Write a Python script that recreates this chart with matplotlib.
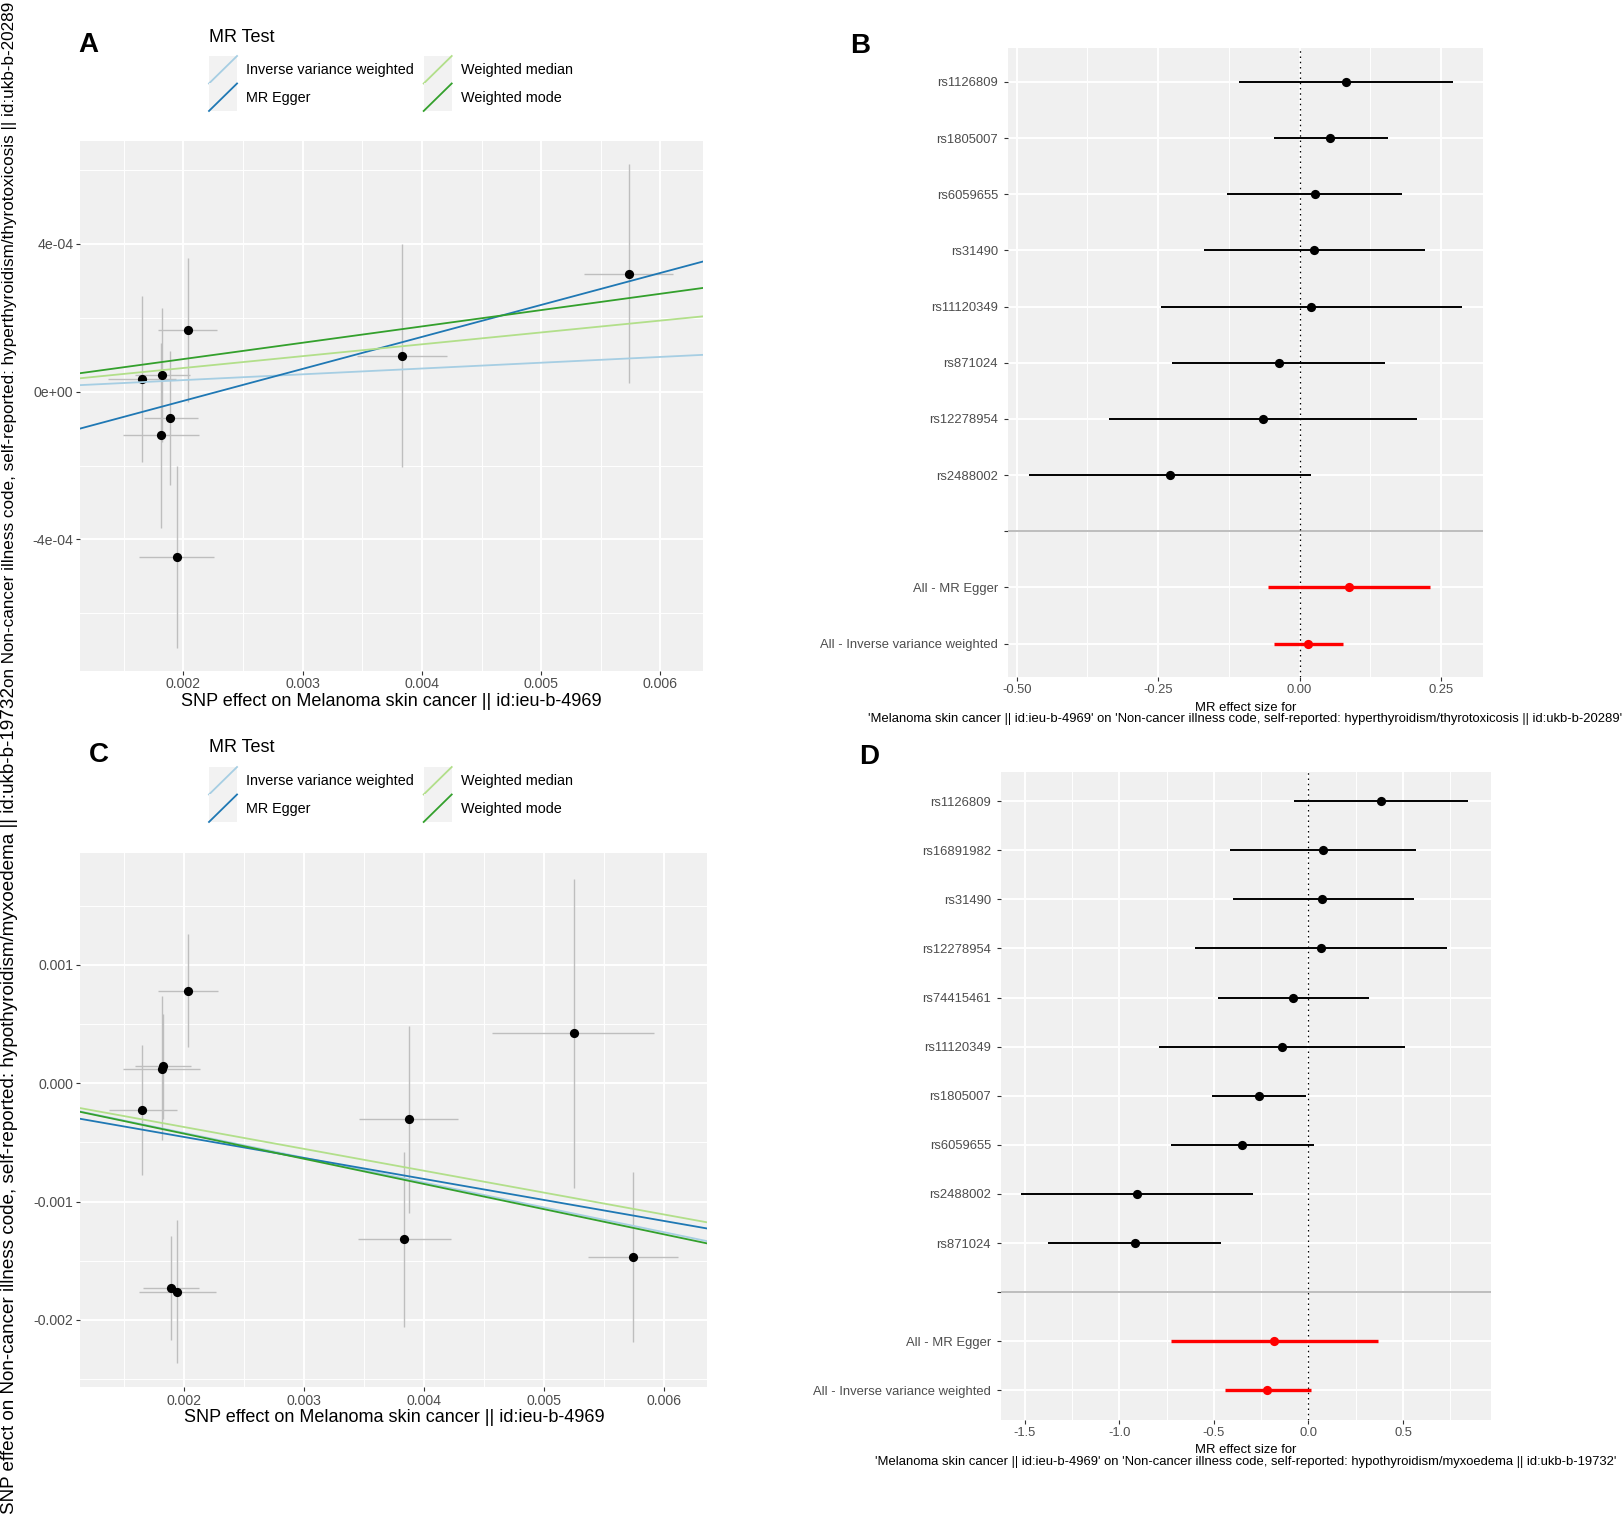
import numpy as np
import matplotlib.pyplot as plt
from matplotlib import font_manager
from matplotlib.legend_handler import HandlerBase
from matplotlib.lines import Line2D
from matplotlib.patches import Rectangle

plt.rcParams['font.family'] = ['Liberation Sans', 'DejaVu Sans']

# ---- data ----
methods = ['Inverse variance weighted', 'MR Egger', 'Weighted median', 'Weighted mode']
method_colors = ['#a6cee3', '#1f78b4', '#b2df8a', '#33a02c']

# panel A: hyperthyroidism/thyrotoxicosis scatter
a_x = [0.001652, 0.001824, 0.001888, 0.001809, 0.001944, 0.002037, 0.003831, 0.005734]
a_y = [3.5e-5, 4.5e-5, -7.1e-5, -1.17e-4, -4.47e-4, 1.67e-4, 9.8e-5, 3.18e-4]
a_x_lo = [0.001367, 0.001596, 0.00167, 0.001494, 0.001625, 0.001783, 0.003457, 0.00536]
a_x_hi = [0.00194, 0.002052, 0.00212, 0.002127, 0.002255, 0.002285, 0.004213, 0.006109]
a_y_lo = [-1.91e-4, -1.36e-4, -2.52e-4, -3.69e-4, -6.93e-4, -2.9e-5, -2.05e-4, 2.3e-5]
a_y_hi = [2.6e-4, 2.26e-4, 1.09e-4, 1.33e-4, -2.01e-4, 3.63e-4, 4.0e-4, 6.16e-4]
a_slope = [0.0157, 0.0866, 0.0321, 0.0442]
a_intercept = [0.0, -1.98e-4, 0.0, 0.0]

# panel C: hypothyroidism/myxoedema scatter
c_x = [0.001654, 0.001814, 0.001829, 0.001892, 0.001944, 0.002037, 0.003874, 0.003833, 0.005245, 0.005736]
c_y = [-2.30e-4, 1.19e-4, 1.42e-4, -1.730e-3, -1.761e-3, 7.79e-4, -3.01e-4, -1.319e-3, 4.25e-4, -1.469e-3]
c_x_lo = [0.001375, 0.001494, 0.001595, 0.001658, 0.001625, 0.001784, 0.003461, 0.00345, 0.004569, 0.005361]
c_x_hi = [0.001944, 0.00213, 0.002059, 0.002123, 0.002264, 0.002286, 0.004286, 0.004223, 0.005918, 0.006115]
c_y_lo = [-7.79e-4, -4.82e-4, -3.05e-4, -2.173e-3, -2.363e-3, 3.05e-4, -1.093e-3, -2.062e-3, -8.89e-4, -2.19e-3]
c_y_hi = [3.23e-4, 7.35e-4, 5.88e-4, -1.288e-3, -1.155e-3, 1.257e-3, 4.87e-4, -5.8e-4, 1.730e-3, -7.48e-4]
c_slope = [-0.210, -0.1776, -0.185, -0.213]
c_intercept = [0.0, -9.9e-5, 0.0, 0.0]

# panel B: forest, hyperthyroidism
b_snps = ['rs1126809', 'rs1805007', 'rs6059655', 'rs31490', 'rs11120349',
          'rs871024', 'rs12278954', 'rs2488002']
b_b = [0.0819, 0.0543, 0.0267, 0.0257, 0.021, -0.0371, -0.0638, -0.2295]
b_lo = [-0.1067, -0.0448, -0.1286, -0.1695, -0.2457, -0.2248, -0.3362, -0.478]
b_hi = [0.2714, 0.157, 0.1819, 0.221, 0.2876, 0.1514, 0.2076, 0.021]

summary_names = ['All - MR Egger', 'All - Inverse variance weighted']
b_sum_b = [0.0876, 0.0152]
b_sum_lo = [-0.0562, -0.0448]
b_sum_hi = [0.2314, 0.0771]

# panel D: forest, hypothyroidism
d_snps = ['rs1126809', 'rs16891982', 'rs31490', 'rs12278954', 'rs74415461',
          'rs11120349', 'rs1805007', 'rs6059655', 'rs2488002', 'rs871024']
d_b = [0.383, 0.077, 0.074, 0.066, -0.083, -0.14, -0.263, -0.349, -0.909, -0.92]
d_lo = [-0.077, -0.414, -0.4, -0.6, -0.48, -0.791, -0.509, -0.729, -1.52, -1.377]
d_hi = [0.846, 0.569, 0.557, 0.731, 0.32, 0.511, -0.014, 0.031, -0.294, -0.463]
d_sum_b = [-0.183, -0.217]
d_sum_lo = [-0.729, -0.44]
d_sum_hi = [0.366, 0.011]

exposure = "SNP effect on Melanoma skin cancer || id:ieu-b-4969"
a_ylab = "on Non-cancer illness code, self-reported: hyperthyroidism/thyrotoxicosis || id:ukb-b-20289"
c_ylab = "SNP effect on Non-cancer illness code, self-reported: hypothyroidism/myxoedema || id:ukb-b-19732"
b_xlab = ("MR effect size for\n'Melanoma skin cancer || id:ieu-b-4969' on 'Non-cancer illness code, "
          "self-reported: hyperthyroidism/thyrotoxicosis || id:ukb-b-20289'")
d_xlab = ("MR effect size for\n'Melanoma skin cancer || id:ieu-b-4969' on 'Non-cancer illness code, "
          "self-reported: hypothyroidism/myxoedema || id:ukb-b-19732'")

# ---- style ----
PANEL = '#F0F0F0'
TICKCOL = '#4D4D4D'
installed = {f.name for f in font_manager.fontManager.ttflist}
if 'Liberation Sans Narrow' in installed:
    NARROW = ['Liberation Sans Narrow', 'DejaVu Sans']
    NARROW_SIZE = 11
else:
    NARROW = ['Liberation Sans', 'DejaVu Sans']
    NARROW_SIZE = 9.4

W, H = 1624, 1522
fig = plt.figure(figsize=(W / 100, H / 100), dpi=100)


def box(l, t, r, b):
    return [l / W, 1 - b / H, (r - l) / W, (b - t) / H]


class DiagKey(HandlerBase):
    def create_artists(self, legend, orig, xd, yd, w, h, fontsize, trans):
        bg = Rectangle((-xd, -yd), w, h, facecolor='#F2F2F2', edgecolor='none', transform=trans)
        ln = Line2D([-xd, -xd + w], [-yd, -yd + h], color=orig.get_color(),
                    linewidth=orig.get_linewidth(), transform=trans)
        return [bg, ln]


def ggplot_axes(ax):
    ax.set_facecolor(PANEL)
    for s in ax.spines.values():
        s.set_visible(False)
    ax.set_axisbelow(True)
    ax.grid(which='major', color='white', linewidth=1.4)
    ax.grid(which='minor', color='white', linewidth=0.7)
    ax.tick_params(which='major', length=3, width=0.8, color='#333333', labelcolor=TICKCOL)
    ax.tick_params(which='minor', length=0)


def scatter_panel(ax, x, y, xlo, xhi, ylo, yhi, slopes, intercepts, xlim, ylim,
                  yticks, yticklabels, yminor):
    ggplot_axes(ax)
    ax.vlines(x, ylo, yhi, color='#BEBEBE', linewidth=1.0, zorder=2)
    ax.hlines(y, xlo, xhi, color='#BEBEBE', linewidth=1.0, zorder=2)
    ax.scatter(x, y, s=44, color='black', zorder=3, linewidths=0)
    lines = []
    for m, col, b, a in zip(methods, method_colors, slopes, intercepts):
        lines.append(ax.axline((0, a), slope=b, color=col, linewidth=1.3, label=m, zorder=4))
    ax.set_xlim(xlim)
    ax.set_ylim(ylim)
    ax.set_xticks([0.002, 0.003, 0.004, 0.005, 0.006])
    ax.set_xticklabels(['0.002', '0.003', '0.004', '0.005', '0.006'])
    ax.set_xticks([0.0015, 0.0025, 0.0035, 0.0045, 0.0055], minor=True)
    ax.set_yticks(yticks)
    ax.set_yticklabels(yticklabels)
    ax.set_yticks(yminor, minor=True)
    ax.tick_params(axis='both', labelsize=10.2, pad=2)
    ax.set_xlabel(exposure, fontsize=13, labelpad=1)
    return lines


def forest_panel(ax, snps, b, lo, hi, sb, slo, shi, xlim, xticks, xticklabels, xminor, xlab):
    ggplot_axes(ax)
    labels = snps + [''] + summary_names
    n = len(labels)
    pos = np.arange(n)[::-1]
    ns = len(snps)
    ax.axvline(0, color='black', linestyle=(0, (1.2, 3)), linewidth=0.9, zorder=2)
    ax.hlines(pos[:ns], lo, hi, color='black', linewidth=1.4, zorder=3)
    ax.scatter(b, pos[:ns], s=44, color='black', zorder=4, linewidths=0)
    ax.hlines(pos[ns + 1:], slo, shi, color='#FF0000', linewidth=2.4, zorder=3)
    ax.scatter(sb, pos[ns + 1:], s=44, color='#FF0000', zorder=4, linewidths=0)
    ax.axhline(pos[ns], color='#BDBDBD', linewidth=1.4, zorder=1.5)
    ax.set_ylim(-0.6, n - 0.4)
    ax.set_yticks(pos)
    ax.set_yticklabels(labels, fontfamily=NARROW, fontsize=NARROW_SIZE)
    ax.set_xlim(xlim)
    ax.set_xticks(xticks)
    ax.set_xticklabels(xticklabels, fontfamily=NARROW, fontsize=NARROW_SIZE)
    ax.set_xticks(xminor, minor=True)
    ax.tick_params(axis='y', pad=4)
    ax.tick_params(axis='x', pad=2)
    ax.set_xlabel(xlab, fontfamily=NARROW, fontsize=NARROW_SIZE, linespacing=0.95, labelpad=4)


axA = fig.add_axes(box(80.4, 140.6, 702.7, 670.5))
axB = fig.add_axes(box(1007.7, 48.2, 1483.4, 677.2))
axC = fig.add_axes(box(80.4, 853.1, 707.3, 1386.8))
axD = fig.add_axes(box(1000.7, 771.7, 1491.0, 1419.8))

linesA = scatter_panel(axA, a_x, a_y, a_x_lo, a_x_hi, a_y_lo, a_y_hi, a_slope, a_intercept,
                       (0.001136, 0.006355), (-7.55e-4, 6.8e-4),
                       [-4e-4, 0, 4e-4], ['-4e-04', '0e+00', '4e-04'],
                       [-6e-4, -2e-4, 2e-4, 6e-4])
linesC = scatter_panel(axC, c_x, c_y, c_x_lo, c_x_hi, c_y_lo, c_y_hi, c_slope, c_intercept,
                       (0.001138, 0.006358), (-0.002566, 0.001945),
                       [-0.002, -0.001, 0.0, 0.001], ['-0.002', '-0.001', '0.000', '0.001'],
                       [-0.0025, -0.0015, -0.0005, 0.0005, 0.0015])

forest_panel(axB, b_snps, b_b, b_lo, b_hi, b_sum_b, b_sum_lo, b_sum_hi,
             (-0.516, 0.325), [-0.5, -0.25, 0.0, 0.25], ['-0.50', '-0.25', '0.00', '0.25'],
             [-0.375, -0.125, 0.125], b_xlab)
forest_panel(axD, d_snps, d_b, d_lo, d_hi, d_sum_b, d_sum_lo, d_sum_hi,
             (-1.628, 0.9655), [-1.5, -1.0, -0.5, 0.0, 0.5], ['-1.5', '-1.0', '-0.5', '0.0', '0.5'],
             [-1.25, -0.75, -0.25, 0.25, 0.75], d_xlab)

# legends: title as its own text, keys stacked without gaps as in ggplot
for lines, title_y, top in [(linesA, 37, 56), (linesC, 748, 767)]:
    fig.text(209 / W, 1 - title_y / H, 'MR Test', fontsize=13, ha='left', va='center')
    fig.legend(handles=lines, labels=methods, loc='upper left',
               bbox_to_anchor=(209 / W, 1 - top / H), bbox_transform=fig.transFigure,
               ncol=2, frameon=False, handler_map={Line2D: DiagKey()}, fontsize=10.4,
               handlelength=1.94, handleheight=2.55, labelspacing=0.0,
               handletextpad=0.62, columnspacing=0.69, borderpad=0, borderaxespad=0)

# y axis titles of the scatter panels (partly covered in the original)
fig.text(10 / W, 1 - 687 / H, a_ylab, rotation=90, ha='center', va='bottom', fontsize=12.3)
fig.text(10 / W, 1 - 687 / H, c_ylab, rotation=90, ha='center', va='top', fontsize=13.6)

# panel letters
for letter, x, y in [('A', 78, 45), ('B', 850, 46), ('C', 89, 755), ('D', 859, 757)]:
    fig.text(x / W, 1 - y / H, letter, fontsize=20, fontweight='bold', ha='left', va='center')

fig.savefig('out.png', dpi=100, facecolor='white')
